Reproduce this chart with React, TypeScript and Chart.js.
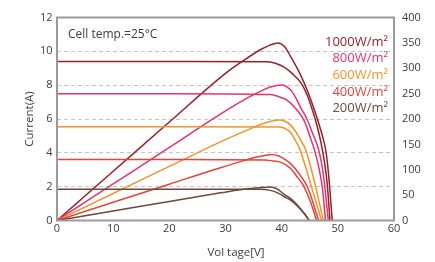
import React, { useEffect, useRef } from "react";
import { Chart, registerables } from "chart.js";

Chart.register(...registerables);

// ---- Text ----
const irradianceLabels = ["1000W/m²", "800W/m²", "600W/m²", "400W/m²", "200W/m²"];
const seriesColors = ["#952129", "#e4336d", "#f0952d", "#e3433b", "#6b4a3b"];
const cellTempLabel = "Cell temp.=25°C";
const xAxisTitle = "Vol tage[V]";
const yAxisTitle = "Current(A)";

// ---- Axes ----
const voltageTicks = [0, 10, 20, 30, 40, 50, 60];
const currentTicks = [0, 2, 4, 6, 8, 10, 12];
const powerTicks = [0, 50, 100, 150, 200, 250, 300, 350, 400];

// ---- I-V curves (voltage V, current A) ----
const iv1000Voltage = [0, 20, 37.5, 39, 40.5, 42, 43.4, 44.5, 45.5, 46.3, 47.0, 47.6, 48.1, 48.6];
const iv1000Current = [9.4, 9.4, 9.38, 9.28, 9.05, 8.65, 8.15, 7.45, 6.5, 5.6, 4.6, 3.5, 2.2, 0];
const iv800Voltage = [0, 20, 38, 39.5, 41, 42.8, 44, 45, 45.9, 46.7, 47.3, 47.8];
const iv800Current = [7.5, 7.5, 7.45, 7.32, 7.1, 6.5, 5.9, 5.0, 4.1, 3.0, 1.8, 0];
const iv600Voltage = [0, 20, 39.5, 40.5, 41.6, 42.5, 43.3, 44.4, 45.3, 46.2, 47.1];
const iv600Current = [5.54, 5.54, 5.53, 5.45, 5.2, 4.7, 4.16, 3.0, 2.0, 1.0, 0];
const iv400Voltage = [0, 20, 37, 38.5, 39.8, 41.5, 42.6, 43.8, 44.9, 45.6, 46.2];
const iv400Current = [3.6, 3.6, 3.58, 3.52, 3.45, 3.1, 2.65, 2.1, 1.3, 0.65, 0];
const iv200Voltage = [0, 20, 36, 38, 39.2, 40.4, 41.5, 42.5, 43.5, 44.3, 44.9];
const iv200Current = [1.84, 1.84, 1.84, 1.78, 1.65, 1.42, 1.22, 0.95, 0.6, 0.28, 0];

// ---- P-V curves (voltage V, power W) ----
const pv1000Voltage = [0, 10, 20, 30, 33.3, 36.3, 38, 39.3, 40.5, 41.6, 43.4, 44.6, 45.6, 46.5, 47.3, 47.9, 48.4, 49.0];
const pv1000Power = [0, 97, 194, 290, 316, 337, 346, 350, 343, 323, 286, 255, 225, 195, 165, 135, 85, 0];
const pv800Voltage = [0, 10, 20, 30.3, 34, 36.3, 38, 40, 41.6, 42.5, 43.4, 44.5, 45.5, 46.6, 47.3, 47.8, 48.3];
const pv800Power = [0, 72, 144, 218, 242, 255, 263, 267, 257, 242, 222, 200, 172, 139, 100, 55, 0];
const pv600Voltage = [0, 10, 20, 29.1, 34.5, 37, 39.5, 40.5, 41.6, 42.5, 43.4, 44.3, 45.3, 46.4, 47.4];
const pv600Power = [0, 53.3, 106.6, 155, 181, 192, 198, 196, 188, 175, 158, 139, 100, 50, 0];
const pv400Voltage = [0, 10, 20, 29.1, 33, 36, 38.3, 39.5, 40.5, 41.5, 42.5, 43.5, 44.5, 45.3, 46.0, 46.6];
const pv400Power = [0, 35.8, 71.6, 104, 117, 126, 130, 127, 121, 113, 101, 86, 68, 45, 20, 0];
const pv200Voltage = [0, 10, 20, 29.1, 33, 36, 38, 39.2, 40.4, 41.5, 42.5, 43.5, 44.3, 44.9];
const pv200Power = [0, 18.8, 37.6, 54.5, 61, 64.5, 66, 62, 52, 44, 34, 21, 10, 0];

const ivVoltages = [iv1000Voltage, iv800Voltage, iv600Voltage, iv400Voltage, iv200Voltage];
const ivCurrents = [iv1000Current, iv800Current, iv600Current, iv400Current, iv200Current];
const pvVoltages = [pv1000Voltage, pv800Voltage, pv600Voltage, pv400Voltage, pv200Voltage];
const pvPowers = [pv1000Power, pv800Power, pv600Power, pv400Power, pv200Power];

const FONT = "'Open Sans', sans-serif";
const TEXT = "#3c3c3c";

const toPoints = (xs: number[], ys: number[]) => xs.map((x, i) => ({ x, y: ys[i] }));

const overlayPlugin = {
  id: "overlay",
  afterDatasetsDraw(chart: any) {
    const { ctx, chartArea: a } = chart;
    ctx.save();
    ctx.strokeStyle = "#9a9a9a";
    ctx.lineWidth = 2;
    ctx.strokeRect(a.left, a.top, a.right - a.left, a.bottom - a.top);

    ctx.textBaseline = "middle";
    ctx.fillStyle = TEXT;
    ctx.font = `12px ${FONT}`;
    ctx.textAlign = "left";
    ctx.fillText(cellTempLabel, a.left + 11, a.top + 17);

    ctx.font = `13px ${FONT}`;
    ctx.textAlign = "right";
    irradianceLabels.forEach((t, i) => {
      ctx.fillStyle = seriesColors[i];
      ctx.fillText(t, a.right - 6, a.top + 24.5 + i * 16.6);
    });

    ctx.fillStyle = TEXT;
    ctx.font = `11.5px ${FONT}`;
    ctx.textAlign = "center";
    ctx.fillText(xAxisTitle, (a.left + a.right) / 2 + 10.5, a.bottom + 32.5);
    ctx.restore();
  },
};

export default function App() {
  const canvasRef = useRef<HTMLCanvasElement | null>(null);

  useEffect(() => {
    if (!canvasRef.current) return;
    const datasets: any[] = [];
    for (let i = irradianceLabels.length - 1; i >= 0; i--) {
      datasets.push({
        label: irradianceLabels[i] + " I-V",
        data: toPoints(ivVoltages[i], ivCurrents[i]),
        yAxisID: "y",
        borderColor: seriesColors[i],
        borderWidth: 1.5,
        pointRadius: 0,
        cubicInterpolationMode: "monotone",
        fill: false,
      });
      datasets.push({
        label: irradianceLabels[i] + " P-V",
        data: toPoints(pvVoltages[i], pvPowers[i]),
        yAxisID: "y2",
        borderColor: seriesColors[i],
        borderWidth: 1.5,
        pointRadius: 0,
        cubicInterpolationMode: "monotone",
        fill: false,
      });
    }

    const chart = new Chart(canvasRef.current, {
      type: "line",
      data: { datasets },
      options: {
        responsive: false,
        animation: false,
        devicePixelRatio: 1,
        layout: { padding: { top: 17.5, left: 0, right: 0, bottom: 0 } },
        plugins: { legend: { display: false }, tooltip: { enabled: false } },
        scales: {
          x: {
            type: "linear",
            min: voltageTicks[0],
            max: voltageTicks[voltageTicks.length - 1],
            afterBuildTicks: (s: any) => { s.ticks = voltageTicks.map((v) => ({ value: v })); },
            ticks: { font: { family: FONT, size: 11 }, color: TEXT, padding: 2 },
            grid: { display: false, drawTicks: false },
            border: { display: false },
            afterFit: (s: any) => { s.height = 41.5; },
          },
          y: {
            type: "linear",
            position: "left",
            min: currentTicks[0],
            max: currentTicks[currentTicks.length - 1],
            afterBuildTicks: (s: any) => { s.ticks = currentTicks.map((v) => ({ value: v })); },
            ticks: { font: { family: FONT, size: 11 }, color: TEXT, padding: 4.5 },
            grid: { color: "#c6c6c6", lineWidth: 1, drawTicks: false },
            border: { display: false, dash: [4, 3] },
            title: {
              display: true,
              text: yAxisTitle,
              color: TEXT,
              font: { family: FONT, size: 11.5 },
              padding: { top: 22.6, bottom: 0 },
            },
            afterFit: (s: any) => { s.width = 57; },
          },
          y2: {
            type: "linear",
            position: "right",
            min: powerTicks[0],
            max: powerTicks[powerTicks.length - 1],
            afterBuildTicks: (s: any) => { s.ticks = powerTicks.map((v) => ({ value: v })); },
            ticks: { font: { family: FONT, size: 11 }, color: TEXT, padding: 8 },
            grid: { display: false, drawTicks: false },
            border: { display: false },
            afterFit: (s: any) => { s.width = 41; },
          },
        },
      },
      plugins: [overlayPlugin],
    } as any);
    return () => chart.destroy();
  }, []);

  return (
    <div style={{ position: "absolute", left: 0, top: 0, width: 435, height: 262, background: "#fff" }}>
      <canvas ref={canvasRef} width={435} height={262} style={{ display: "block" }} />
    </div>
  );
}
